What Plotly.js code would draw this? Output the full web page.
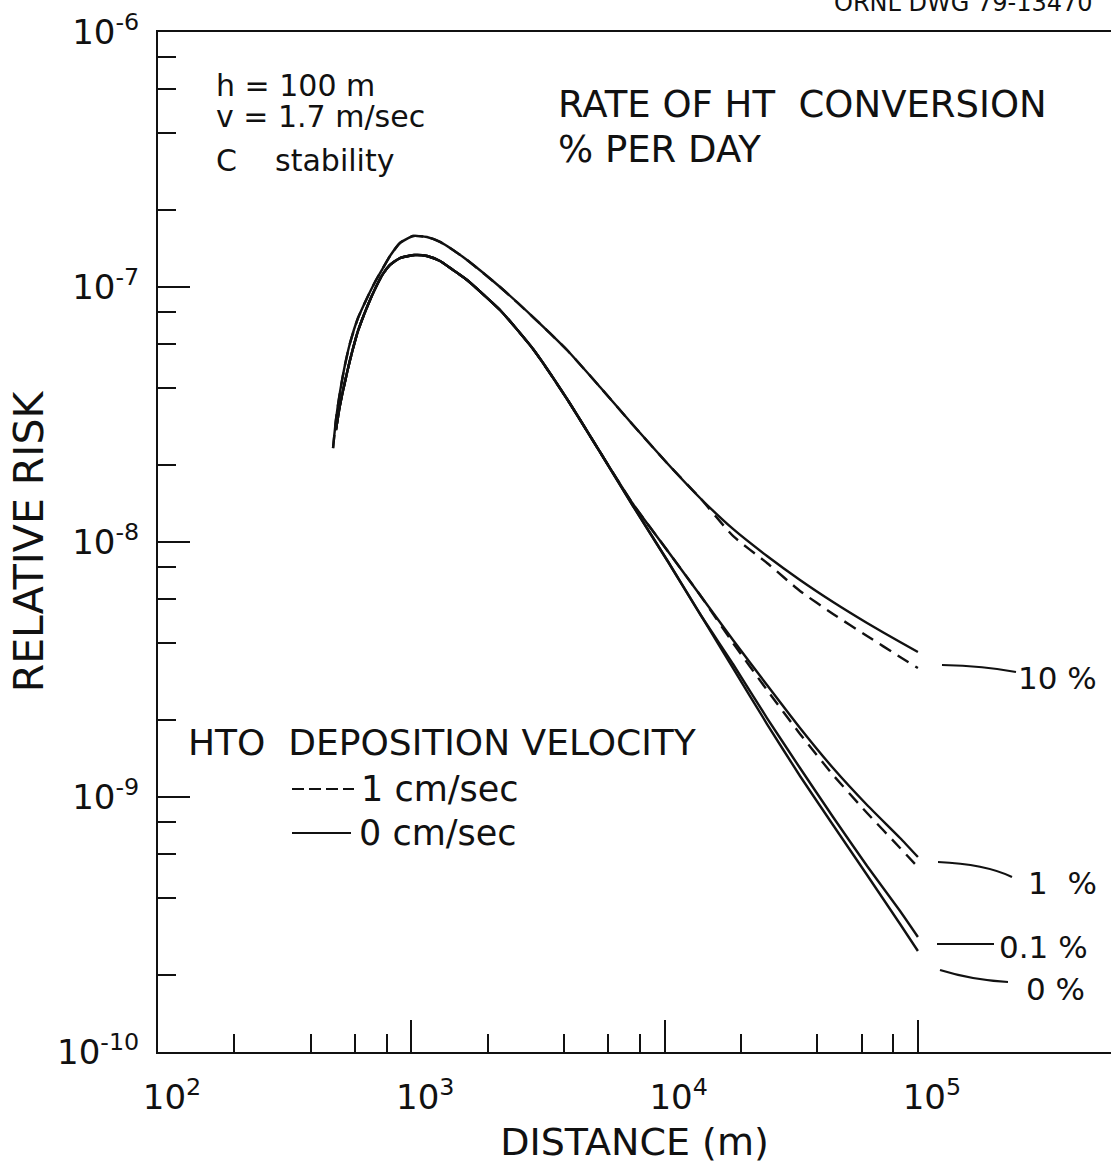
<!DOCTYPE html>
<html>
<head>
<meta charset="utf-8">
<script src="https://cdn.plot.ly/plotly-3.0.1.min.js"></script>
<style>
  html, body { margin: 0; padding: 0; background: #ffffff; }
  #chart { width: 1111px; height: 1164px; }
</style>
</head>
<body>
<div id="chart"></div>
<script>
// ---------------- DATA ----------------
// Distance (m) for the 10 %/day pair of curves
const distA = [491, 504, 523, 547, 573, 616, 669, 719, 773, 824, 902, 1016, 1153, 1298, 1461, 1660, 2240, 3024, 4119, 5559, 7505, 10220, 13800, 18620, 25370, 34240, 46230, 62990, 85030, 100000];
// 10 % per day, HTO deposition 0 cm/sec (solid)
const risk10 = [2.336e-8, 3.01e-8, 3.875e-8, 4.94e-8, 6.03e-8, 7.556e-8, 9.055e-8, 1.046e-7, 1.187e-7, 1.323e-7, 1.488e-7, 1.585e-7, 1.571e-7, 1.502e-7, 1.397e-7, 1.276e-7, 1.0e-7, 7.626e-8, 5.66e-8, 4.054e-8, 2.876e-8, 2.04e-8, 1.488e-8, 1.125e-8, 8.813e-9, 7.096e-9, 5.816e-9, 4.813e-9, 4.054e-9, 3.704e-9];
// 10 % per day, HTO deposition 1 cm/sec (dashed)
const risk10Dep = [2.336e-8, 3.01e-8, 3.875e-8, 4.94e-8, 6.03e-8, 7.556e-8, 9.055e-8, 1.046e-7, 1.187e-7, 1.323e-7, 1.488e-7, 1.585e-7, 1.571e-7, 1.502e-7, 1.397e-7, 1.276e-7, 1.0e-7, 7.626e-8, 5.66e-8, 4.054e-8, 2.876e-8, 2.04e-8, 1.488e-8, 1.056e-8, 8.274e-9, 6.426e-9, 5.22e-9, 4.28e-9, 3.54e-9, 3.205e-9];

// Distance (m) for the 1 %, 0.1 % and 0 %/day curves
const distB = [504, 523, 547, 573, 616, 669, 719, 773, 824, 902, 1034, 1153, 1298, 1461, 1660, 2240, 3024, 4119, 5559, 7505, 10220, 13800, 18620, 25370, 34240, 46230, 62990, 85030, 100000];
// 1 % per day, 0 cm/sec (solid) and 1 cm/sec (dashed)
const risk1 = [2.749e-8, 3.445e-8, 4.242e-8, 5.172e-8, 6.722e-8, 8.349e-8, 9.822e-8, 1.125e-7, 1.22e-7, 1.299e-7, 1.335e-7, 1.323e-7, 1.265e-7, 1.166e-7, 1.065e-7, 8.124e-8, 5.713e-8, 3.638e-8, 2.254e-8, 1.409e-8, 9.303e-9, 6.197e-9, 4.128e-9, 2.749e-9, 1.865e-9, 1.299e-9, 9.303e-10, 6.907e-10, 5.816e-10];
const risk1Dep = [2.749e-8, 3.445e-8, 4.242e-8, 5.172e-8, 6.722e-8, 8.349e-8, 9.822e-8, 1.125e-7, 1.22e-7, 1.299e-7, 1.335e-7, 1.323e-7, 1.265e-7, 1.166e-7, 1.065e-7, 8.124e-8, 5.713e-8, 3.638e-8, 2.254e-8, 1.409e-8, 9.303e-9, 6.197e-9, 4.018e-9, 2.628e-9, 1.767e-9, 1.22e-9, 8.657e-10, 6.31e-10, 5.314e-10];
// 0.1 % per day
const risk01 = [2.749e-8, 3.445e-8, 4.242e-8, 5.172e-8, 6.722e-8, 8.349e-8, 9.822e-8, 1.125e-7, 1.22e-7, 1.299e-7, 1.335e-7, 1.323e-7, 1.265e-7, 1.166e-7, 1.065e-7, 8.124e-8, 5.713e-8, 3.638e-8, 2.254e-8, 1.384e-8, 8.5e-9, 5.22e-9, 3.323e-9, 2.04e-9, 1.299e-9, 8.349e-10, 5.362e-10, 3.572e-10, 2.825e-10];
// 0 % per day
const risk0 = [2.749e-8, 3.445e-8, 4.242e-8, 5.172e-8, 6.722e-8, 8.349e-8, 9.822e-8, 1.125e-7, 1.22e-7, 1.299e-7, 1.335e-7, 1.323e-7, 1.265e-7, 1.166e-7, 1.065e-7, 8.124e-8, 5.713e-8, 3.638e-8, 2.254e-8, 1.384e-8, 8.5e-9, 5.22e-9, 3.205e-9, 1.933e-9, 1.209e-9, 7.766e-10, 4.945e-10, 3.177e-10, 2.489e-10];

// Axis ticks
const xTickVals = [100, 1000, 10000, 100000];
const xTickText = ['10<sup>2</sup>', '10<sup>3</sup>', '10<sup>4</sup>', '10<sup>5</sup>'];
const xMinorVals = [200, 400, 600, 800, 2000, 4000, 6000, 8000, 20000, 40000, 60000, 80000];
const yTickVals = [1e-10, 1e-9, 1e-8, 1e-7, 1e-6];
const yTickText = ['10<sup>-10</sup>', '10<sup>-9</sup>', '10<sup>-8</sup>', '10<sup>-7</sup>', '10<sup>-6</sup>'];
const yMinorVals = [2e-10, 4e-10, 6e-10, 8e-10, 2e-9, 4e-9, 6e-9, 8e-9, 2e-8, 4e-8, 6e-8, 8e-8, 2e-7, 4e-7, 6e-7, 8e-7];

// Curve labels and key texts
const rateLabels = ['10 %', '1&nbsp;&nbsp;%', '0.1 %', '0 %'];
const legendTitle = 'HTO&nbsp;&nbsp;DEPOSITION VELOCITY';
const legendNames = ['1 cm/sec', '0 cm/sec'];

// ---------------- LAYOUT HELPERS ----------------
const W = 1111, H = 1164;
const L = 158, R = 1111, T = 32, B = 1052;
const px = p => (p - L) / (R - L);
const py = p => (B - p) / (B - T);
const FONT = 'DejaVu Sans, Liberation Sans, sans-serif';
const INK = '#111111';

function curve(x, y, dash) {
  return {
    x: x, y: y, type: 'scatter', mode: 'lines',
    line: { color: INK, width: 2.4, dash: dash, shape: 'spline', smoothing: 0.5 },
    hoverinfo: 'skip', showlegend: false
  };
}

const traces = [
  curve(distA, risk10Dep, '13px,8px'),
  curve(distB, risk1Dep, '13px,8px'),
  curve(distA, risk10, 'solid'),
  curve(distB, risk1, 'solid'),
  curve(distB, risk01, 'solid'),
  curve(distB, risk0, 'solid')
];

function txt(text, x, y, size, anchor) {
  return {
    xref: 'paper', yref: 'paper', x: px(x), y: py(y), text: text,
    showarrow: false, xanchor: anchor || 'left', yanchor: 'middle',
    font: { family: FONT, size: size, color: INK }
  };
}

const annotations = [
  txt('h = 100 m', 214, 85, 30),
  txt('v = 1.7 m/sec', 214, 116, 30),
  txt('C&nbsp;&nbsp;&nbsp;&nbsp;stability', 214, 160, 30),
  txt('RATE OF HT&nbsp;&nbsp;CONVERSION', 556, 105, 37),
  txt('% PER DAY', 556, 149, 37),
  txt(legendTitle, 186, 742, 36),
  txt(legendNames[0], 359, 789, 35),
  txt(legendNames[1], 357, 833, 35),
  txt(rateLabels[0], 1016, 678, 31),
  txt(rateLabels[1], 1026, 883, 31),
  txt(rateLabels[2], 997, 947, 31),
  txt(rateLabels[3], 1024, 989, 31),
  txt('ORNL DWG 79-13470', 832, 3, 24)
];

function seg(x0, y0, x1, y1, dash) {
  return { type: 'line', xref: 'paper', yref: 'paper',
           x0: px(x0), y0: py(y0), x1: px(x1), y1: py(y1),
           line: { color: INK, width: 2.2, dash: dash || 'solid' } };
}
function qpath(x0, y0, cx, cy, x1, y1) {
  return { type: 'path', xref: 'paper', yref: 'paper',
           path: `M${px(x0)},${py(y0)} Q${px(cx)},${py(cy)} ${px(x1)},${py(y1)}`,
           line: { color: INK, width: 2.2 } };
}

const shapes = [
  // key samples
  seg(292, 789, 354, 789, '12px,5px'),
  seg(292, 833, 351, 833),
  // leader lines to curve labels
  qpath(942, 665, 985, 666, 1016, 672),
  qpath(938, 862, 985, 864, 1012, 877),
  seg(937, 944, 994, 944),
  qpath(940, 970, 972, 980, 1008, 982)
];

const layout = {
  width: W, height: H,
  margin: { l: L, r: W - R, t: T, b: H - B },
  paper_bgcolor: '#ffffff', plot_bgcolor: '#ffffff',
  showlegend: false,
  font: { family: FONT, color: INK },
  xaxis: {
    type: 'log', range: [2, 2 + (R - L) / 253.3],
    tickmode: 'array', tickvals: xTickVals, ticktext: xTickText,
    ticks: 'inside', ticklen: 32, tickwidth: 2, tickcolor: INK,
    minor: { tickmode: 'array', tickvals: xMinorVals, ticks: 'inside', ticklen: 18, tickwidth: 2, tickcolor: INK, showgrid: false },
    showline: true, linewidth: 2, linecolor: INK, mirror: true,
    showgrid: false, zeroline: false,
    tickfont: { family: FONT, size: 34, color: INK },
    ticklabelshift: 14, ticklabelstandoff: 14,
    title: { text: 'DISTANCE (m)', font: { family: FONT, size: 38, color: INK }, standoff: 14 },
    automargin: false
  },
  yaxis: {
    type: 'log', range: [-10, -6],
    tickmode: 'array', tickvals: yTickVals, ticktext: yTickText,
    ticks: 'inside', ticklen: 32, tickwidth: 2, tickcolor: INK,
    minor: { tickmode: 'array', tickvals: yMinorVals, ticks: 'inside', ticklen: 18, tickwidth: 2, tickcolor: INK, showgrid: false },
    showline: true, linewidth: 2, linecolor: INK, mirror: false,
    showgrid: false, zeroline: false,
    tickfont: { family: FONT, size: 34, color: INK },
    ticklabelstandoff: 10,
    title: { text: 'RELATIVE RISK', font: { family: FONT, size: 41, color: INK }, standoff: 1 },
    automargin: false
  },
  annotations: annotations,
  shapes: shapes
};

Plotly.newPlot('chart', traces, layout, { staticPlot: true, displayModeBar: false });
</script>
</body>
</html>
